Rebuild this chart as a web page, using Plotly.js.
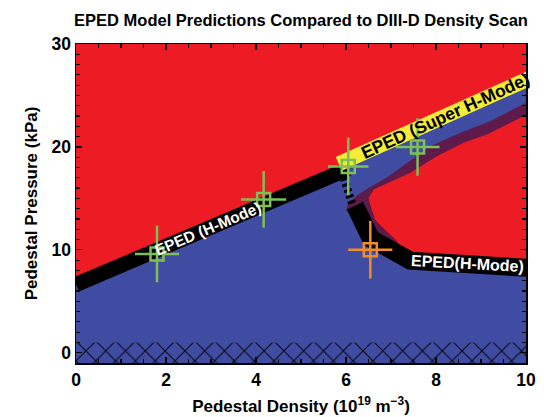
<!DOCTYPE html>
<html><head><meta charset="utf-8">
<script src="https://cdn.plot.ly/plotly-3.0.1.min.js"></script>
<style>html,body{margin:0;padding:0;background:#fff}#chart{width:544px;height:417px}</style>
</head><body><div id="chart"></div>
<script>
// EPED H-mode branch (low density)
const hmodeX = [0, 6.05];
const hmodeY = [6.63, 17.86];
// EPED Super H-mode branch
const superX = [5.84, 10.2];
const superY = [18.35, 26.9];
// transition (dashed)
const transX = [5.95, 6.15];
const transY = [17.0, 14.3];
// EPED H-mode branch (high density)
const highX = [6.2, 6.55, 7.43, 10.2];
const highY = [14.3, 11.1, 8.95, 8.2];
// lower edge of the super H-mode channel (blue / purple boundary)
const channelX = [10.2, 10.0, 9.21, 8.61, 7.87, 7.36, 6.9, 6.5, 6.25, 6.05, 6.0, 6.3];
const channelY = [24.6, 24.3, 22.5, 21.5, 20.06, 18.45, 17.0, 16.0, 15.3, 14.5, 13.8, 13.3];
// purple / red boundary
const redX = [10.2, 10.0, 9.13, 8.61, 8.02, 7.43, 6.61, 6.5, 6.55, 6.65, 6.9, 7.1];
const redY = [23.4, 23.1, 21.2, 20.4, 19.1, 17.5, 15.85, 15.0, 14.2, 12.9, 11.8, 11.0];
// measured points (density scan)
const ptsX = [1.8, 4.17, 6.05, 7.59];
const ptsY = [9.6, 14.9, 18.1, 20.0];
const ptsXErr = [0.49, 0.5, 0.45, 0.49];
const ptsYErr = [2.75, 2.75, 2.8, 2.8];
const hiPtX = [6.54];
const hiPtY = [10.0];
const hiPtXErr = [0.49];
const hiPtYErr = [2.8];
// hatched (inaccessible) band
const hatchY = [-1, 1];
// axes
const xRange = [0, 10];
const yRange = [-1, 30];

const RED = '#ED1C24', BLUE = '#3F4CA1', PURPLE = '#5E1A4A', YELLOW = '#F4EC3A',
      GREEN = '#7DC055', ORANGE = '#F28C28';
const F = "'Liberation Sans', Arial, sans-serif";

const blueX = [xRange[0], hmodeX[0], hmodeX[1], superX[0] + 0.26, superX[1], superX[1]];
const blueY = [yRange[0], hmodeY[0], hmodeY[1], superY[0] + 0.51, superY[1], yRange[0]];

const purpleX = channelX.concat(highX.slice(1));
const purpleY = channelY.concat(highY.slice(1));
const redPolyX = redX.concat(highX.slice(2));
const redPolyY = redY.concat(highY.slice(2));

const traces = [
  {x: blueX, y: blueY, type: 'scatter', mode: 'lines', fill: 'toself', fillcolor: BLUE, line: {width: 0}, hoverinfo: 'skip'},
  {x: purpleX, y: purpleY, type: 'scatter', mode: 'lines', fill: 'toself', fillcolor: PURPLE, line: {width: 0}, hoverinfo: 'skip'},
  {x: redPolyX, y: redPolyY, type: 'scatter', mode: 'lines', fill: 'toself', fillcolor: RED, line: {width: 0}, hoverinfo: 'skip'},
  {x: [xRange[0], xRange[1], xRange[1], xRange[0]], y: [hatchY[0], hatchY[0], hatchY[1], hatchY[1]],
   type: 'scatter', mode: 'lines', fill: 'toself', fillcolor: 'rgba(0,0,0,0)', line: {width: 0},
   fillpattern: {shape: 'x', size: 14, solidity: 0.16, fgcolor: '#0a0a18'}, hoverinfo: 'skip'},
  {x: hmodeX, y: hmodeY, type: 'scatter', mode: 'lines', line: {color: '#000', width: 15}, hoverinfo: 'skip'},
  {x: superX, y: superY, type: 'scatter', mode: 'lines', line: {color: YELLOW, width: 15}, hoverinfo: 'skip'},
  {x: transX, y: transY, type: 'scatter', mode: 'lines', line: {color: '#000', width: 8, dash: '3px,3px'}, hoverinfo: 'skip'},
  {x: highX, y: highY, type: 'scatter', mode: 'lines', line: {color: '#000', width: 18}, hoverinfo: 'skip'},
  {x: ptsX, y: ptsY, type: 'scatter', mode: 'markers',
   marker: {symbol: 'square-open', size: 13, color: GREEN, line: {width: 2.5, color: GREEN}},
   error_x: {type: 'data', array: ptsXErr, color: GREEN, thickness: 2.5, width: 0},
   error_y: {type: 'data', array: ptsYErr, color: GREEN, thickness: 2.5, width: 0}},
  {x: hiPtX, y: hiPtY, type: 'scatter', mode: 'markers',
   marker: {symbol: 'square-open', size: 13, color: ORANGE, line: {width: 2.5, color: ORANGE}},
   error_x: {type: 'data', array: hiPtXErr, color: ORANGE, thickness: 2.5, width: 0},
   error_y: {type: 'data', array: hiPtYErr, color: ORANGE, thickness: 2.5, width: 0}}
];

const axisCommon = {
  ticks: 'inside', ticklen: 6, tickwidth: 1.2, tickcolor: '#000',
  showline: true, linecolor: '#000', linewidth: 1.5, mirror: 'allticks',
  showgrid: false, zeroline: false,
  tickfont: {family: F, size: 17.5, weight: 'bold', color: '#000'}
};

const layout = {
  width: 544, height: 417,
  margin: {l: 76, r: 18, t: 44, b: 54},
  paper_bgcolor: '#fff', plot_bgcolor: RED,
  showlegend: false,
  title: {text: 'EPED Model Predictions Compared to DIII-D Density Scan',
          font: {family: F, size: 16.5, weight: 'bold', color: '#000'},
          xref: 'paper', x: 0.5, xanchor: 'center', yref: 'container', y: 0.952, yanchor: 'middle'},
  xaxis: Object.assign({}, axisCommon, {
    range: xRange, tick0: 0, dtick: 2,
    minor: {tick0: 0, dtick: 0.5, ticks: 'inside', ticklen: 4, tickcolor: '#000', tickwidth: 1.2},
    title: {text: 'Pedestal Density (10<sup>19</sup> m<sup>\u22123</sup>)', standoff: 11,
            font: {family: F, size: 17, weight: 'bold', color: '#000'}}
  }),
  yaxis: Object.assign({}, axisCommon, {
    range: yRange, tick0: 0, dtick: 10,
    minor: {tick0: 0, dtick: 1, ticks: 'inside', ticklen: 4, tickcolor: '#000', tickwidth: 1.2},
    title: {text: 'Pedestal Pressure (kPa)', standoff: 9,
            font: {family: F, size: 17, weight: 'bold', color: '#000'}}
  }),
  annotations: [
    {x: 2.94, y: 12.1, xref: 'x', yref: 'y', text: 'EPED (H-Mode)', showarrow: false, textangle: -23,
     xanchor: 'center', yanchor: 'middle', font: {family: F, size: 15.5, weight: 'bold', color: '#fff'}},
    {x: 8.2, y: 23.0, xref: 'x', yref: 'y', text: 'EPED (Super H-Mode)', showarrow: false, textangle: -24.5,
     xanchor: 'center', yanchor: 'middle', font: {family: F, size: 17.5, weight: 'bold', color: '#000'}},
    {x: 8.7, y: 8.66, xref: 'x', yref: 'y', text: 'EPED(H-Mode)', showarrow: false, textangle: 3,
     xanchor: 'center', yanchor: 'middle', font: {family: F, size: 16, weight: 'bold', color: '#fff'}}
  ]
};

Plotly.newPlot('chart', traces, layout, {displayModeBar: false, staticPlot: true});
</script>
</body></html>
